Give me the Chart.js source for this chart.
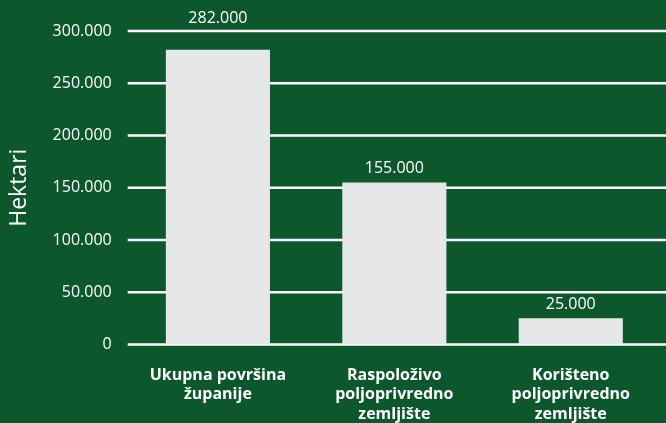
<!DOCTYPE html>
<html>
<head>
<meta charset="utf-8">
<script src="https://cdn.jsdelivr.net/npm/chart.js@4/dist/chart.umd.min.js"></script>
<style>
  html, body { margin: 0; padding: 0; background: #0d572d; }
  #wrap { width: 666px; height: 423px; }
</style>
</head>
<body>
<div id="wrap"><canvas id="c" width="666" height="423"></canvas></div>
<script>
// Podaci
const kategorije = [
  ['Ukupna površina', 'županije'],
  ['Raspoloživo', 'poljoprivredno', 'zemljište'],
  ['Korišteno', 'poljoprivredno', 'zemljište']
];
const hektari = [282000, 155000, 25000];
const yMax = 300000;
const yKorak = 50000;

const ZELENA = '#0d572d';
const SIVA = '#e6e7e8';
const BIJELA = '#ffffff';
const FONT = "'Open Sans', 'Noto Sans', sans-serif";

// 282000 -> 282.000
const fmt = v => String(v).replace(/\B(?=(\d{3})+(?!\d))/g, '.');

// pozadina + produžene linije mreže do ruba
const pozadina = {
  id: 'pozadina',
  beforeDraw(chart) {
    const ctx = chart.ctx;
    ctx.save();
    ctx.fillStyle = ZELENA;
    ctx.fillRect(0, 0, chart.width, chart.height);
    ctx.restore();
  },
  beforeDatasetsDraw(chart) {
    const ctx = chart.ctx, y = chart.scales.y, a = chart.chartArea;
    ctx.save();
    ctx.strokeStyle = BIJELA;
    ctx.lineWidth = 2.5;
    y.ticks.forEach(t => {
      const py = y.getPixelForValue(t.value);
      ctx.beginPath();
      ctx.moveTo(a.left - 2, py);
      ctx.lineTo(chart.width, py);
      ctx.stroke();
    });
    ctx.restore();
  }
};

// vrijednosti iznad stupaca (preblizu vrha -> iznad crte)
const oznake = {
  id: 'oznake',
  afterDatasetsDraw(chart) {
    const ctx = chart.ctx, a = chart.chartArea;
    ctx.save();
    ctx.fillStyle = BIJELA;
    ctx.font = '16px ' + FONT;
    ctx.textAlign = 'center';
    ctx.textBaseline = 'alphabetic';
    chart.getDatasetMeta(0).data.forEach((bar, i) => {
      const y = (bar.y - a.top < 30) ? a.top - 8 : bar.y - 9;
      ctx.fillText(fmt(hektari[i]), bar.x, y);
    });
    ctx.restore();
  }
};

new Chart(document.getElementById('c'), {
  type: 'bar',
  data: {
    labels: kategorije,
    datasets: [{
      data: hektari,
      backgroundColor: SIVA,
      borderWidth: 0,
      categoryPercentage: 1,
      barPercentage: 0.59
    }]
  },
  options: {
    responsive: false,
    animation: false,
    layout: { padding: { top: 31, right: 7, left: 6, bottom: -22 } },
    plugins: { legend: { display: false }, tooltip: { enabled: false } },
    scales: {
      x: {
        grid: { display: false, drawTicks: false },
        border: { display: false },
        ticks: {
          color: BIJELA,
          font: { family: FONT, size: 16, weight: 'bold', lineHeight: 1.22 },
          padding: 21,
          maxRotation: 0
        }
      },
      y: {
        min: 0,
        max: yMax,
        grid: { display: false, drawTicks: false },
        border: { display: false },
        ticks: {
          stepSize: yKorak,
          color: BIJELA,
          font: { family: FONT, size: 16 },
          padding: 18,
          callback: v => fmt(v)
        },
        title: {
          display: true,
          text: 'Hektari',
          color: BIJELA,
          font: { family: FONT, size: 23 },
          padding: { top: 0, bottom: 1 }
        }
      }
    }
  },
  plugins: [pozadina, oznake]
});
</script>
</body>
</html>
